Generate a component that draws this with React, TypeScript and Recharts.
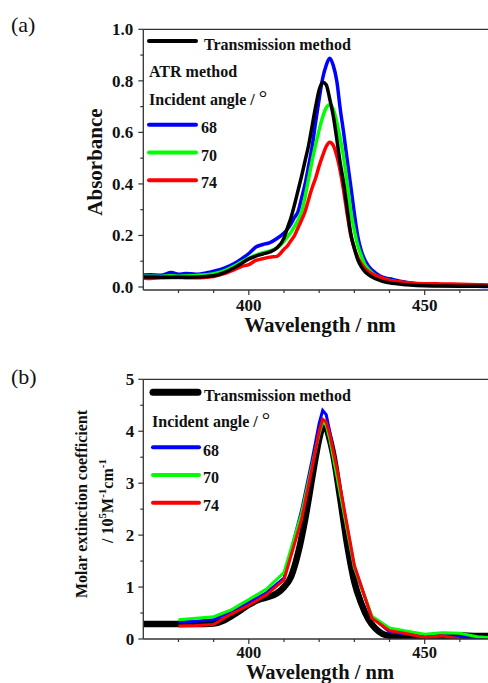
import React from 'react'
import { LineChart, Line, XAxis, YAxis, ReferenceLine, Legend } from 'recharts'

const FONT = '"Liberation Serif", "Times New Roman", serif'
const AXIS = '#333'

// ---- panel (a): absorbance vs wavelength ----
const wlA = [
  370, 372, 375, 378, 380, 382, 385, 388, 390, 393, 396, 398, 400, 402, 404, 406, 408,
  410, 411, 412, 413, 414, 415, 416, 417, 418, 419, 420, 421, 422, 423, 424, 425, 426, 427,
  428, 429, 430, 431, 432, 433, 434, 436, 438, 440, 445, 450, 455, 460, 465, 468,
]
const absTransmission = [
  0.039, 0.039, 0.038, 0.038, 0.038, 0.038, 0.039, 0.041, 0.044,
  0.056, 0.076, 0.092, 0.109, 0.12, 0.128, 0.136, 0.152,
  0.19, 0.23, 0.27, 0.32, 0.375, 0.43, 0.49, 0.55, 0.625, 0.7,
  0.765, 0.795, 0.785, 0.73, 0.665, 0.575, 0.48, 0.4, 0.3, 0.205,
  0.15, 0.105, 0.078, 0.06, 0.048,
  0.032, 0.022, 0.016, 0.009, 0.005, 0.004, 0.003, 0.003, 0.003,
]
const absAtr68 = [
  0.047, 0.048, 0.046, 0.056, 0.05, 0.052, 0.05, 0.055, 0.061,
  0.073, 0.092, 0.11, 0.13, 0.155, 0.165, 0.172, 0.188,
  0.21, 0.225, 0.245, 0.27, 0.293, 0.345, 0.4, 0.47, 0.545, 0.64,
  0.73, 0.81, 0.86, 0.888, 0.86, 0.8, 0.69, 0.595, 0.49, 0.39,
  0.285, 0.195, 0.14, 0.105, 0.082,
  0.055, 0.038, 0.032, 0.018, 0.01, 0.006, 0.004, 0.003, 0.002,
]
const absAtr70 = [
  0.042, 0.042, 0.041, 0.044, 0.042, 0.043, 0.045, 0.048, 0.052,
  0.063, 0.082, 0.098, 0.112, 0.124, 0.133, 0.14, 0.151,
  0.177, 0.195, 0.213, 0.235, 0.26, 0.293, 0.35, 0.42, 0.49, 0.552,
  0.61, 0.66, 0.695, 0.707, 0.69, 0.64, 0.575, 0.5, 0.4, 0.293,
  0.22, 0.16, 0.12, 0.087, 0.068,
  0.045, 0.033, 0.025, 0.015, 0.008, 0.006, 0.005, 0.004, 0.004,
]
const absAtr74 = [
  0.035, 0.033, 0.036, 0.037, 0.037, 0.036, 0.036, 0.038, 0.041,
  0.052, 0.068, 0.08, 0.087, 0.103, 0.11, 0.116, 0.119,
  0.147, 0.16, 0.18, 0.2, 0.23, 0.26, 0.293, 0.34, 0.385, 0.423,
  0.47, 0.51, 0.545, 0.562, 0.55, 0.51, 0.45, 0.37, 0.28, 0.2,
  0.15, 0.115, 0.09, 0.072, 0.06,
  0.045, 0.035, 0.025, 0.017, 0.013, 0.012, 0.011, 0.009, 0.008,
]

// ---- panel (b): molar extinction coefficient ----
const wlBTrans = [
  370, 375, 380, 385, 390, 393, 395, 398, 400, 403, 405, 408, 410, 412, 414, 416, 418,
  419, 420, 421, 422, 423, 424, 426, 428, 430, 432, 434, 436, 438, 440, 445, 450, 455, 460, 465, 468,
]
const epsTransmission = [
  0.29, 0.29, 0.29, 0.29, 0.3, 0.36, 0.44, 0.57, 0.66, 0.76, 0.8, 0.88, 1.0, 1.2, 1.65, 2.3, 3.1,
  3.5, 3.85, 4.08, 4.05, 3.85, 3.55, 2.7, 1.8, 1.1, 0.68, 0.38, 0.2, 0.1, 0.06, 0.02, 0.01, 0.03, 0.07, 0.06, 0.06,
]
const wlBAtr = [380, 385, 390, 395, 400, 405, 410, 415, 418, 420, 421, 422, 423, 425, 430, 435, 440, 445, 450, 455, 460, 465, 468]
const epsAtr68 = [0.33, 0.34, 0.37, 0.53, 0.7, 0.89, 1.17, 2.48, 3.45, 4.15, 4.4, 4.32, 4.0, 3.25, 1.38, 0.42, 0.14, 0.09, 0.045, 0.07, 0.045, 0.0, 0.0]
const epsAtr70 = [0.37, 0.4, 0.43, 0.56, 0.76, 0.96, 1.28, 2.42, 3.35, 3.95, 4.18, 4.12, 3.85, 3.15, 1.38, 0.44, 0.21, 0.15, 0.09, 0.12, 0.11, 0.045, 0.03]
const epsAtr74 = [0.25, 0.26, 0.28, 0.48, 0.65, 0.85, 1.14, 2.3, 3.3, 4.0, 4.23, 4.18, 3.95, 3.3, 1.42, 0.4, 0.16, 0.1, 0.03, 0.06, 0.0, null, null]

// ---- axes / legend ----
const xTicks = [380, 390, 400, 410, 420, 430, 440, 450, 460]
const yTicksA = [0, 0.1, 0.2, 0.3, 0.4, 0.5, 0.6, 0.7, 0.8, 0.9, 1.0]
const yTicksB = [0, 0.5, 1, 1.5, 2, 2.5, 3, 3.5, 4, 4.5, 5]
const angles = ['68', '70', '74']
const angleColors = ['#0000ff', '#00ff00', '#ff0000']

const toPoints = (xs: number[], ys: (number | null)[]) => xs.map((x, i) => ({ x, y: ys[i] }))

function XTick({ x, y, payload, labelGap = 21, labelSize = 17 }: any) {
  const v = payload.value
  const major = v % 50 === 0
  return (
    <g>
      <line x1={x} x2={x} y1={y} y2={y + (major ? 5 : 3)} stroke={AXIS} strokeWidth={1.2} />
      {major && (
        <text x={x} y={y + labelGap} textAnchor="middle" fontFamily={FONT} fontWeight="bold" fontSize={labelSize} fill="#111">
          {v}
        </text>
      )}
    </g>
  )
}

function YTickA({ x, y, payload }: any) {
  const v = payload.value
  const major = Math.round(v * 10) % 2 === 0
  return (
    <g>
      <line x1={x - (major ? 5 : 3)} x2={x} y1={y} y2={y} stroke={AXIS} strokeWidth={1.2} />
      {major && (
        <text x={x - 10} y={y + 6} textAnchor="end" fontFamily={FONT} fontWeight="bold" fontSize={17} fill="#111">
          {v.toFixed(1)}
        </text>
      )}
    </g>
  )
}

function YTickB({ x, y, payload }: any) {
  const v = payload.value
  const major = Number.isInteger(v)
  return (
    <g>
      <line x1={x - (major ? 5 : 3)} x2={x} y1={y} y2={y} stroke={AXIS} strokeWidth={1.2} />
      {major && (
        <text x={x - 9} y={y + 6} textAnchor="end" fontFamily={FONT} fontWeight="bold" fontSize={17} fill="#111">
          {v}
        </text>
      )}
    </g>
  )
}

const XTitle = ({ baseline, size = 21 }: { baseline: number; size?: number }) => (
  <text x={320} y={baseline} textAnchor="middle" fontFamily={FONT} fontWeight="bold" fontSize={size} fill="#111">
    Wavelength / nm
  </text>
)

const AbsTitle = () => (
  <text transform="translate(101.5,162) rotate(-90)" textAnchor="middle" fontFamily={FONT} fontWeight="bold" fontSize={21} fill="#111">
    Absorbance
  </text>
)

const EpsTitle = () => (
  <g fontFamily={FONT} fontWeight="bold" fill="#111">
    <text transform="translate(87,164) rotate(-90)" textAnchor="middle" fontSize={16}>
      Molar extinction coefficient
    </text>
    <text transform="translate(113,161) rotate(-90)" textAnchor="middle" fontSize={16}>
      / 10<tspan dy={-7} fontSize={11}>5</tspan>
      <tspan dy={7}>M</tspan>
      <tspan dy={-7} fontSize={11}>-1</tspan>
      <tspan dy={7}>cm</tspan>
      <tspan dy={-7} fontSize={11}>-1</tspan>
    </text>
  </g>
)

const legendText = { fontFamily: FONT, fontWeight: 'bold' as const, fontSize: 16, fill: '#111' }

function LegendA() {
  return (
    <svg width={488} height={200} style={{ display: 'block' }}>
      <text x={11} y={32} fontFamily={FONT} fontSize={22} fill="#111">(a)</text>
      <line x1={149} x2={196} y1={41} y2={41} stroke="#000" strokeWidth={4} strokeLinecap="round" />
      <text x={204} y={49.5} {...legendText}>Transmission method</text>
      <text x={149} y={77.3} {...legendText}>ATR method</text>
      <text x={149} y={104.5} {...legendText}>
        Incident angle / <tspan fontWeight="normal" fontSize={21}>°</tspan>
      </text>
      {angles.map((a, i) => (
        <g key={a}>
          <line x1={149} x2={196} y1={124.7 + i * 27.8} y2={124.7 + i * 27.8} stroke={angleColors[i]} strokeWidth={4} strokeLinecap="round" />
          <text x={201} y={132.7 + i * 27.8} {...legendText}>{a}</text>
        </g>
      ))}
    </svg>
  )
}

function LegendB() {
  return (
    <svg width={488} height={200} style={{ display: 'block' }}>
      <text x={11} y={44} fontFamily={FONT} fontSize={22} fill="#111">(b)</text>
      <line x1={153} x2={198} y1={52.3} y2={52.3} stroke="#000" strokeWidth={7} strokeLinecap="round" />
      <text x={204} y={60.7} {...legendText}>Transmission method</text>
      <text x={152} y={87.3} {...legendText}>
        Incident angle / <tspan fontWeight="normal" fontSize={21}>°</tspan>
      </text>
      {angles.map((a, i) => (
        <g key={a}>
          <line x1={153} x2={199} y1={107.3 + i * 27.7} y2={107.3 + i * 27.7} stroke={angleColors[i]} strokeWidth={4} strokeLinecap="round" />
          <text x={203} y={115.7 + i * 27.7} {...legendText}>{a}</text>
        </g>
      ))}
    </svg>
  )
}

const legendWrap = { left: 0, top: 0, width: 488, height: 200 }

export default function App() {
  const abs = [absAtr68, absAtr70, absAtr74]
  const eps = [epsAtr68, epsAtr70, epsAtr74]
  return (
    <div style={{ position: 'absolute', left: 0, top: 0, width: 488, height: 683, overflow: 'hidden', background: '#fff' }}>
      <div style={{ position: 'absolute', left: 0, top: 0 }}>
        <LineChart width={488} height={340} margin={{ top: 29.3, right: 0, bottom: 0, left: 0 }}>
          <XAxis
            type="number"
            dataKey="x"
            domain={[370, 468]}
            ticks={xTicks}
            interval={0}
            allowDataOverflow
            height={50}
            tickSize={0}
            tickMargin={0}
            tickLine={false}
            tick={<XTick />}
            axisLine={{ stroke: AXIS, strokeWidth: 1.3 }}
            label={<XTitle baseline={332.3} />}
          />
          <YAxis
            type="number"
            domain={[-0.0116, 1]}
            ticks={yTicksA}
            interval={0}
            allowDataOverflow
            width={143.3}
            tickSize={0}
            tickMargin={0}
            tickLine={false}
            tick={<YTickA />}
            axisLine={{ stroke: AXIS, strokeWidth: 1.3 }}
            label={<AbsTitle />}
          />
          <ReferenceLine y={1} stroke={AXIS} strokeWidth={1.3} />
          {abs.map((vals, i) => (
            <Line
              key={angles[i]}
              data={toPoints(wlA, vals)}
              dataKey="y"
              type="monotone"
              stroke={angleColors[i]}
              strokeWidth={3.5}
              dot={false}
              isAnimationActive={false}
            />
          ))}
          <Line
            data={toPoints(wlA, absTransmission)}
            dataKey="y"
            type="monotone"
            stroke="#000"
            strokeWidth={3.5}
            dot={false}
            isAnimationActive={false}
          />
          <Legend layout="vertical" align="center" verticalAlign="middle" wrapperStyle={legendWrap} content={() => <LegendA />} />
        </LineChart>
      </div>
      <div style={{ position: 'absolute', left: 0, top: 340 }}>
        <LineChart width={488} height={343} margin={{ top: 39.3, right: 0, bottom: 0, left: 0 }}>
          <XAxis
            type="number"
            dataKey="x"
            domain={[370, 468]}
            ticks={xTicks}
            interval={0}
            allowDataOverflow
            height={44}
            tickSize={0}
            tickMargin={0}
            tickLine={false}
            tick={<XTick labelGap={18.5} labelSize={16.5} />}
            axisLine={{ stroke: AXIS, strokeWidth: 1.3 }}
            label={<XTitle baseline={338.5} size={20.5} />}
          />
          <YAxis
            type="number"
            domain={[0, 5]}
            ticks={yTicksB}
            interval={0}
            allowDataOverflow
            width={143.3}
            tickSize={0}
            tickMargin={0}
            tickLine={false}
            tick={<YTickB />}
            axisLine={{ stroke: AXIS, strokeWidth: 1.3 }}
            label={<EpsTitle />}
          />
          <ReferenceLine y={5} stroke={AXIS} strokeWidth={1.3} />
          <Line
            data={toPoints(wlBTrans, epsTransmission)}
            dataKey="y"
            type="monotone"
            stroke="#000"
            strokeWidth={6.5}
            dot={false}
            isAnimationActive={false}
          />
          {eps.map((vals, i) => (
            <Line
              key={angles[i]}
              data={toPoints(wlBAtr, vals)}
              dataKey="y"
              type="linear"
              stroke={angleColors[i]}
              strokeWidth={3}
              dot={false}
              connectNulls={false}
              isAnimationActive={false}
            />
          ))}
          <Legend layout="vertical" align="center" verticalAlign="middle" wrapperStyle={legendWrap} content={() => <LegendB />} />
        </LineChart>
      </div>
    </div>
  )
}
